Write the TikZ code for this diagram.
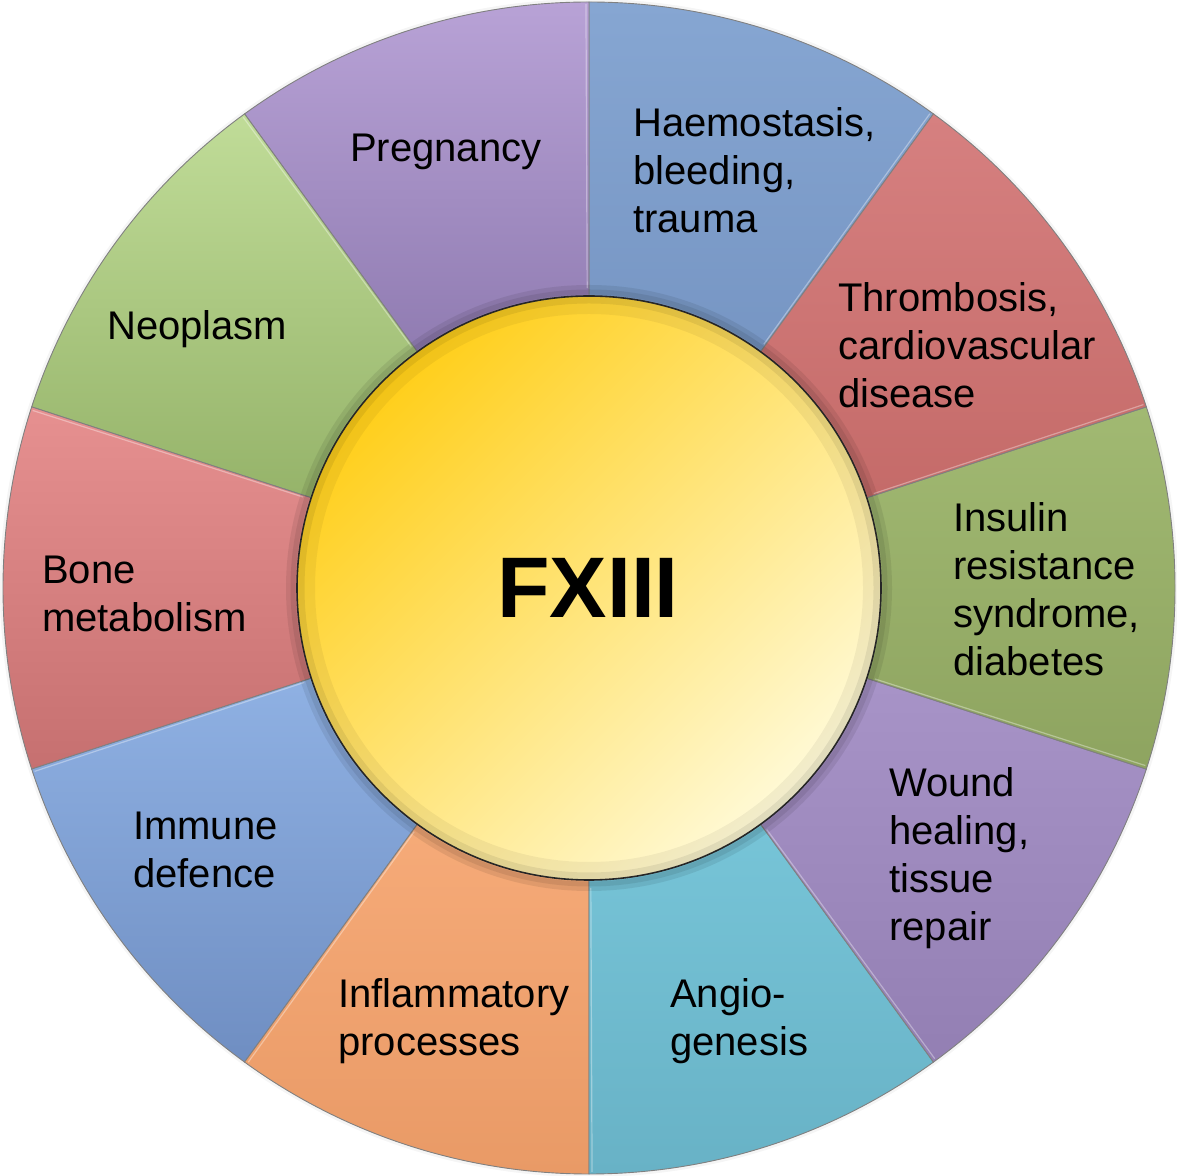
\documentclass[tikz,border=0pt]{standalone}
\usepackage{fontspec}
\setmainfont{Liberation Sans}
\usetikzlibrary{calc}
\definecolor{haemT}{HTML}{86A6D2}\definecolor{haemB}{HTML}{7594C2}
\definecolor{thrT}{HTML}{D68080}\definecolor{thrB}{HTML}{C46A68}
\definecolor{insT}{HTML}{A1B972}\definecolor{insB}{HTML}{8EA460}
\definecolor{wndT}{HTML}{A894C8}\definecolor{wndB}{HTML}{937FB3}
\definecolor{angT}{HTML}{78C6D9}\definecolor{angB}{HTML}{68B2C6}
\definecolor{infT}{HTML}{F7AC7A}\definecolor{infB}{HTML}{E99A66}
\definecolor{immT}{HTML}{90B2E4}\definecolor{immB}{HTML}{6F8EC2}
\definecolor{bonT}{HTML}{E69090}\definecolor{bonB}{HTML}{C67070}
\definecolor{neoT}{HTML}{C0DC98}\definecolor{neoB}{HTML}{94B268}
\definecolor{preT}{HTML}{B8A2D6}\definecolor{preB}{HTML}{8C78AE}
\definecolor{goldA}{HTML}{FFCE18}\definecolor{goldB}{HTML}{FFE676}\definecolor{goldC}{HTML}{FFFAD8}
\tikzset{
  lbl/.style={anchor=base west, align=left, inner sep=0pt, text=black,
    font=\fontsize{40}{48}\selectfont},
  wedgeline/.style={draw=black!50, line width=0.9pt},
}
\begin{document}
\begin{tikzpicture}[x=1pt,y=1pt]
\useasboundingbox (0,0) rectangle (1177,1175);
\fill[white] (0,0) rectangle (1177,1175);
\begin{scope}[shift={(589,587)}]
  % outer soft shadow
  \fill[black, opacity=0.04] (0,0) circle (589);
  \foreach \a/\tc/\bc in {54/haemT/haemB, 90/preT/preB, 126/neoT/neoB,
      162/bonT/bonB, 198/immT/immB, 234/infT/infB, 270/angT/angB,
      306/wndT/wndB, 342/insT/insB, 18/thrT/thrB}{
    \path[top color=\tc, bottom color=\bc, wedgeline]
      (\a:250) -- (\a:586) arc[start angle=\a, end angle={\a+36}, radius=586]
      -- ({\a+36}:250) arc[start angle={\a+36}, end angle=\a, radius=250] -- cycle;
    \draw[white, opacity=0.35, line width=1.2pt] ({\a+0.35}:300) -- ({\a+0.3}:584);
  }
  % shadow around the centre disc
  \draw[black, opacity=0.08, line width=10pt] (0,0) circle (298);
  \draw[black, opacity=0.08, line width=5pt] (0,0) circle (296);
  % centre disc
  \path[top color=goldA, middle color=goldB, bottom color=goldC, shading angle=45]
    (0,0) circle (292);
  \draw[black, opacity=0.05, line width=18pt] (0,0) circle (283);
  \draw[black, opacity=0.07, line width=7pt] (0,0) circle (288);
  \draw[black!85, line width=1.6pt] (0,0) circle (292);
\end{scope}
\node[anchor=base, inner sep=0pt, font=\fontsize{86}{90}\selectfont\bfseries]
  (fx) at (588,1175-618) {FXIII};
\node[lbl] (preg) at (350,1175-162) {Pregnancy};
\node[lbl] (haem) at (633,1175-233) {Haemostasis,\\bleeding,\\trauma};
\node[lbl] (thr) at (838,1175-408) {Thrombosis,\\cardiovascular\\disease};
\node[lbl] (ins) at (953,1175-676) {Insulin\\resistance\\syndrome,\\diabetes};
\node[lbl] (wnd) at (889,1175-941) {Wound\\healing,\\tissue\\repair};
\node[lbl] (ang) at (670,1175-1055) {Angio-\\genesis};
\node[lbl] (inf) at (338,1175-1055) {Inflammatory\\processes};
\node[lbl] (imm) at (133,1175-888) {Immune\\defence};
\node[lbl] (bon) at (42,1175-632) {Bone\\metabolism};
\node[lbl] (neo) at (107,1175-340) {Neoplasm};
\end{tikzpicture}
\end{document}
